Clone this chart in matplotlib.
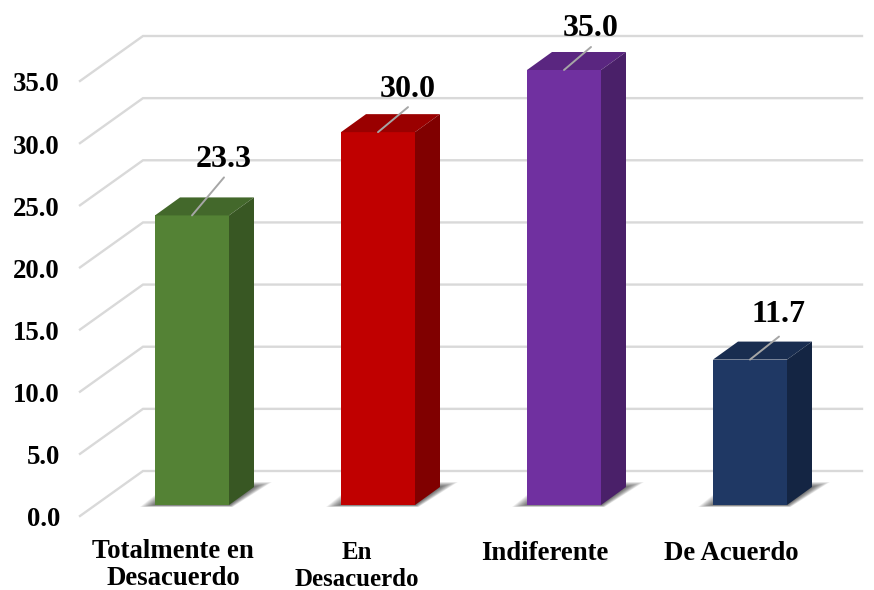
# 3D-style column chart drawn by hand with polygons

import numpy as np
import matplotlib.pyplot as plt
from matplotlib.patches import Polygon

categories = ['Totalmente en\nDesacuerdo', 'En\nDesacuerdo', 'Indiferente', 'De Acuerdo']
values = [23.3, 30.0, 35.0, 11.7]
y_ticks = [0, 5, 10, 15, 20, 25, 30, 35]

front_colors = ['#548235', '#c00000', '#7030a0', '#1f3864']
top_colors = ['#43682b', '#9a0000', '#5a2680', '#192d50']
side_colors = ['#385723', '#800000', '#4a2069', '#142543']

plt.rcParams['font.family'] = ['Liberation Serif', 'DejaVu Serif']
plt.rcParams['font.weight'] = 'bold'

W, H = 874, 590
cat_px = 186.0
val_px = 435.0 / 35.0

fig = plt.figure(figsize=(W / 100, H / 100), dpi=100)
ax = fig.add_axes([0, 0, 1, 1])
ax.set_xlim(-192 / cat_px, (W - 192) / cat_px)
ax.set_ylim(-85 / val_px, 505 / val_px)
ax.axis('off')

bar_w = 74 / cat_px
dx = 25 / cat_px
dy = 18 / val_px

# floor and wall grid
wall_x0 = -49 / cat_px
wall_x1 = 670 / cat_px
floor_x0 = -112 / cat_px
wall_dy = 34 / val_px
floor_dy = -11 / val_px
for t in y_ticks:
    ax.plot([floor_x0, wall_x0, wall_x1], [t + floor_dy, t + wall_dy, t + wall_dy],
            color='#d9d9d9', lw=1.7, solid_joinstyle='miter', zorder=1)
    ax.text(-132 / cat_px, t + floor_dy - 4 / val_px, f'{t:.1f}', ha='right', va='center',
            fontsize=19.3, color='black', zorder=5)

label_dx = [32, 30, 27, 29]
label_dy = [38, 25, 23, 23]
label_gap = [18, 18, 18, 22]
cat_shift = [-19, -21, -19, -19]
cat_size = [19.3, 17.9, 19.3, 19.3]
cat_top = [-34.5, -36, -36, -36]
cat_spacing = [1.1, 1.24, 1.1, 1.1]

for i, v in enumerate(values):
    x0 = i - bar_w / 2
    x1 = i + bar_w / 2

    # soft shadow on the floor, darkest next to the base
    for grow in np.linspace(1, 0, 14):
        gl = grow * 15 / cat_px
        gr = grow * 18 / cat_px
        gb = grow * 2 / val_px
        gt = grow * 5 / val_px
        ax.add_patch(Polygon([(x0 - gl, -gb), (x1 + gr * 0.2, -gb),
                              (x1 + dx + gr, dy + gt), (x0 + dx - gl * 0.6, dy + gt)],
                             closed=True, fc='black', ec='none', alpha=0.055, zorder=2))

    ax.add_patch(Polygon([(x0, 0), (x1, 0), (x1, v), (x0, v)],
                         closed=True, fc=front_colors[i], ec='none', zorder=3))
    ax.add_patch(Polygon([(x0, v), (x1, v), (x1 + dx, v + dy), (x0 + dx, v + dy)],
                         closed=True, fc=top_colors[i], ec='none', zorder=3))
    ax.add_patch(Polygon([(x1, 0), (x1 + dx, dy), (x1 + dx, v + dy), (x1, v)],
                         closed=True, fc=side_colors[i], ec='none', zorder=3))

    # value label with its leader line
    ax.annotate('', xy=(i, v), xytext=(label_dx[i], label_dy[i]),
                textcoords='offset pixels',
                arrowprops=dict(arrowstyle='-', color='#a6a6a6', lw=1.4,
                                shrinkA=0, shrinkB=0), zorder=4)
    ax.annotate(f'{v:.1f}', xy=(i, v), xytext=(label_dx[i], label_dy[i] + label_gap[i]),
                textcoords='offset pixels', ha='center', va='center',
                fontsize=23, color='black', zorder=6)

    ax.text(i + cat_shift[i] / cat_px, cat_top[i] / val_px, categories[i], ha='center', va='top',
            fontsize=cat_size[i], color='black', linespacing=cat_spacing[i], zorder=5)

fig.savefig('out.png', dpi=100)
